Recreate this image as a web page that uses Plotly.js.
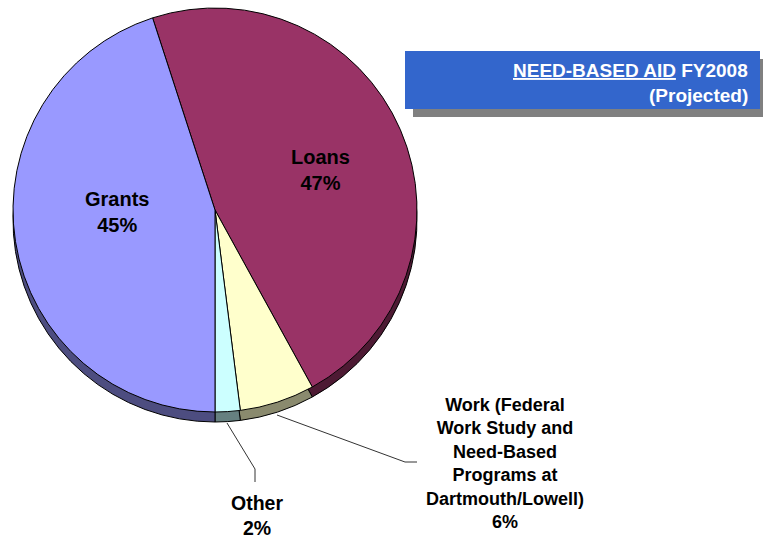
<!DOCTYPE html>
<html>
<head>
<meta charset="utf-8">
<script src="https://cdn.plot.ly/plotly-3.0.1.min.js"></script>
<style>html,body{margin:0;padding:0;background:#fff;}#chart{width:763px;height:540px;}</style>
</head>
<body>
<div id="chart"></div>
<script>
// ---- data ----
const categories = ['Loans', 'Work (Federal Work Study and Need-Based Programs at Dartmouth/Lowell)', 'Other', 'Grants'];
const labelLines = ['Loans', 'Work (Federal<br>Work Study and<br>Need-Based<br>Programs at<br>Dartmouth/Lowell)', 'Other', 'Grants'];
const values = [47, 6, 2, 45];
const titleMain = 'NEED-BASED AID';
const titleYear = 'FY2008';
const titleSub = '(Projected)';

// ---- styles ----
const W = 763, H = 540;
const px = x => x / W;
const py = y => 1 - y / H;
const topColors = ['#993366', '#FFFFCC', '#CCFFFF', '#9999FF'];
const rimColors = ['#4D1A33', '#8A8A6E', '#668080', '#4D4D80'];
const FONT = 'Liberation Sans, Arial, sans-serif';

const total = values.reduce((a, b) => a + b, 0);
const pct = values.map(v => Math.round(v / total * 100) + '%');

const pieCommon = {
  type: 'pie', labels: categories, values: values, sort: false,
  direction: 'clockwise', rotation: -18, textinfo: 'none',
  hoverinfo: 'skip', showlegend: false
};
const rimPie = Object.assign({}, pieCommon, {
  marker: {colors: rimColors, line: {color: '#000', width: 1}},
  domain: {x: [px(12), px(418)], y: [py(422), py(18)]}
});
const topPie = Object.assign({}, pieCommon, {
  marker: {colors: topColors, line: {color: '#000', width: 1}},
  domain: {x: [px(12), px(418)], y: [py(412), py(8)]}
});

// label placement (centers in px)
const labelPos = [
  {x: 320, y: 170, size: 20},
  {x: 505, y: 463, size: 18},
  {x: 257, y: 515, size: 19.5},
  {x: 117, y: 212, size: 20}
];
const annotations = categories.map((c, i) => ({
  xref: 'paper', yref: 'paper', x: px(labelPos[i].x), y: py(labelPos[i].y),
  xanchor: 'center', yanchor: 'middle', align: 'center', showarrow: false,
  text: '<b>' + labelLines[i] + '<br>' + pct[i] + '</b>',
  font: {family: FONT, size: labelPos[i].size, color: '#000'}
}));
annotations.push({
  xref: 'paper', yref: 'paper', x: px(750), y: py(70), xanchor: 'right', yanchor: 'middle',
  showarrow: false, align: 'right',
  text: '<b><u>' + titleMain + '</u> ' + titleYear + '</b>',
  font: {family: FONT, size: 19, color: '#fff'}
});
annotations.push({
  xref: 'paper', yref: 'paper', x: px(750), y: py(95), xanchor: 'right', yanchor: 'middle',
  showarrow: false, align: 'right',
  text: '<b>' + titleSub + '</b>',
  font: {family: FONT, size: 19, color: '#fff'}
});

const path = pts => pts.map((p, i) => (i ? 'L' : 'M') + px(p[0]) + ',' + py(p[1])).join(' ');
const shapes = [
  {type: 'rect', xref: 'paper', yref: 'paper', x0: px(413), x1: px(763), y0: py(117), y1: py(59),
   fillcolor: '#808080', line: {width: 0}, layer: 'below'},
  {type: 'rect', xref: 'paper', yref: 'paper', x0: px(405), x1: px(760), y0: py(109), y1: py(51),
   fillcolor: '#3366CC', line: {width: 0}, layer: 'below'},
  {type: 'path', xref: 'paper', yref: 'paper', path: path([[277, 415], [405, 462], [417, 462]]),
   line: {color: '#333', width: 1}},
  {type: 'path', xref: 'paper', yref: 'paper', path: path([[227, 423], [255, 469], [255, 482]]),
   line: {color: '#333', width: 1}}
];

Plotly.newPlot('chart', [rimPie, topPie], {
  width: W, height: H, margin: {l: 0, r: 0, t: 0, b: 0},
  paper_bgcolor: '#fff', plot_bgcolor: '#fff',
  annotations: annotations, shapes: shapes
}, {staticPlot: true, displayModeBar: false});
</script>
</body>
</html>
